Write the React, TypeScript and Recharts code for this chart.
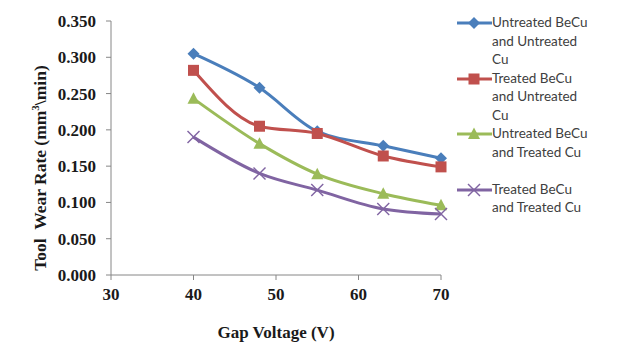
import React from "react";
import { LineChart, Line, XAxis, YAxis } from "recharts";

const voltage = [40, 48, 55, 63, 70];
const untreatedBeCuUntreatedCu = [0.305, 0.258, 0.198, 0.178, 0.161];
const treatedBeCuUntreatedCu = [0.282, 0.205, 0.195, 0.164, 0.149];
const untreatedBeCuTreatedCu = [0.243, 0.181, 0.139, 0.112, 0.096];
const treatedBeCuTreatedCu = [0.19, 0.14, 0.117, 0.091, 0.084];

const xTicks = [30, 40, 50, 60, 70];
const yTicks = [0, 0.05, 0.1, 0.15, 0.2, 0.25, 0.3, 0.35];

const series = [
  { key: "s1", lines: ["Untreated BeCu", "and Untreated", "Cu"], color: "#4a7ebb", marker: "diamond", values: untreatedBeCuUntreatedCu },
  { key: "s2", lines: ["Treated BeCu", "and Untreated", "Cu"], color: "#c0504d", marker: "square", values: treatedBeCuUntreatedCu },
  { key: "s3", lines: ["Untreated BeCu", "and Treated Cu", ""], color: "#9bbb59", marker: "triangle", values: untreatedBeCuTreatedCu },
  { key: "s4", lines: ["Treated BeCu", "and Treated Cu", ""], color: "#8064a2", marker: "cross", values: treatedBeCuTreatedCu },
];

const data = voltage.map((v, i) => {
  const row: Record<string, number> = { v };
  series.forEach((s) => (row[s.key] = s.values[i]));
  return row;
});

function Marker({ kind, cx, cy, color }: { kind: string; cx: number; cy: number; color: string }) {
  if (kind === "diamond")
    return <polygon points={`${cx},${cy - 6} ${cx + 6},${cy} ${cx},${cy + 6} ${cx - 6},${cy}`} fill={color} />;
  if (kind === "square") return <rect x={cx - 5.5} y={cy - 5.5} width={11} height={11} fill={color} />;
  if (kind === "triangle")
    return <polygon points={`${cx},${cy - 6.5} ${cx + 6},${cy + 5} ${cx - 6},${cy + 5}`} fill={color} />;
  return (
    <g stroke={color} strokeWidth={1.4}>
      <line x1={cx - 6} y1={cy - 6} x2={cx + 6} y2={cy + 6} />
      <line x1={cx - 6} y1={cy + 6} x2={cx + 6} y2={cy - 6} />
    </g>
  );
}

const serif = "'Liberation Serif', 'Times New Roman', serif";

function ChartLegend() {
  return (
    <div
      style={{
        position: "absolute",
        left: 457,
        top: 14,
        width: 170,
        fontFamily: "Lato, 'Noto Sans', sans-serif",
        fontSize: 13.5,
        color: "#404040",
      }}
    >
      {series.map((s) => (
        <div key={s.key} style={{ display: "flex", alignItems: "flex-start", height: 55.5 }}>
          <svg width={35} height={18} style={{ flex: "none" }}>
            <line x1={0} y1={9} x2={35} y2={9} stroke={s.color} strokeWidth={3} />
            <Marker kind={s.marker} cx={17} cy={9} color={s.color} />
          </svg>
          <div style={{ lineHeight: "18.5px", marginTop: -1 }}>
            {s.lines.map((l, i) => (
              <div key={i}>{l || "\u00a0"}</div>
            ))}
          </div>
        </div>
      ))}
    </div>
  );
}

function YLabel(props: any) {
  const vb = props.viewBox;
  const x = vb.x + 46;
  const y = vb.y + vb.height / 2 + 20;
  return (
    <text
      x={x}
      y={y}
      transform={`rotate(-90, ${x}, ${y})`}
      textAnchor="middle"
      fontFamily={serif}
      fontWeight="bold"
      fontSize={17.5}
      fill="#1a1a1a"
    >
      {"Tool\u00a0 Wear Rate (mm"}
      <tspan dy={-7} fontSize={11}>3</tspan>
      <tspan dy={7}>\min)</tspan>
    </text>
  );
}

export default function App() {
  return (
    <div style={{ position: "absolute", left: 0, top: 0, width: 629, height: 352, background: "#fff" }}>
      <LineChart width={629} height={352} data={data} margin={{ top: 21, right: 188, bottom: 0, left: 0 }}>
        <XAxis
          dataKey="v"
          type="number"
          domain={[30, 70]}
          ticks={xTicks}
          height={77}
          stroke="#868686"
          tickSize={5}
          tickMargin={8}
          tick={{ fontFamily: serif, fontWeight: "bold", fontSize: 17, fill: "#1a1a1a" }}
          label={{
            value: "Gap Voltage (V)",
            position: "insideBottom",
            offset: 14,
            style: { fontFamily: serif, fontWeight: "bold", fontSize: 17, fill: "#1a1a1a" },
          }}
        />
        <YAxis
          type="number"
          domain={[0, 0.35]}
          ticks={yTicks}
          width={111}
          stroke="#868686"
          tickSize={5}
          tickMargin={10}
          tickFormatter={(t: number) => t.toFixed(3)}
          tick={{ fontFamily: serif, fontWeight: "bold", fontSize: 17, fill: "#1a1a1a" }}
          label={{ content: YLabel }}
        />
        {series.map((s) => (
          <Line
            key={s.key}
            dataKey={s.key}
            type="monotone"
            stroke={s.color}
            strokeWidth={3}
            isAnimationActive={false}
            dot={(p: any) => <Marker key={p.index} kind={s.marker} cx={p.cx} cy={p.cy} color={s.color} />}
            activeDot={false}
          />
        ))}
      </LineChart>
      <ChartLegend />
    </div>
  );
}
